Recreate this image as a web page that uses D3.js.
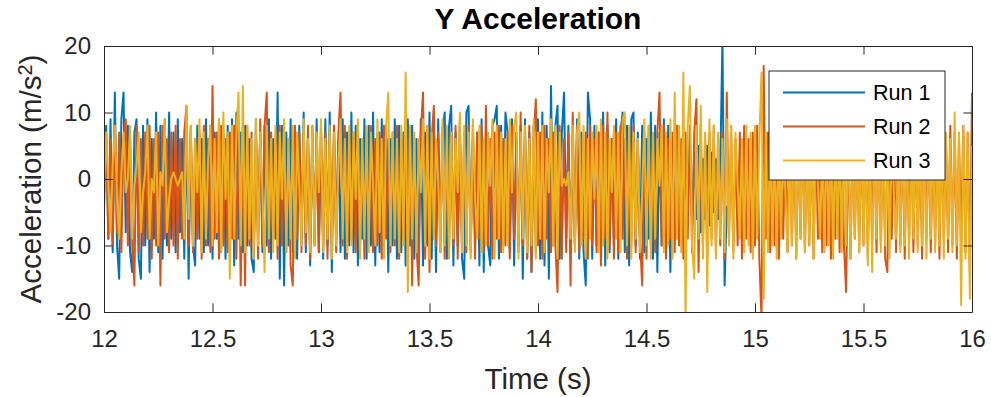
<!DOCTYPE html>
<html>
<head>
<meta charset="utf-8">
<script src="https://cdn.jsdelivr.net/npm/d3@7"></script>
<style>
  html, body { margin: 0; padding: 0; background: #fff; }
  svg { display: block; font-family: "Liberation Sans", Arial, Helvetica, sans-serif; }
</style>
</head>
<body>
<svg id="chart" width="991" height="397"></svg>
<script>
// Y-axis acceleration, three runs sampled every 0.01 s starting at t = 12 s
const startTime = 12;
const sampleStep = 0.01;

const seriesNames = ["Run 1", "Run 2", "Run 3"];
const seriesColors = ["#0072BD", "#D95319", "#EDB120"];

// Run 1 stops shortly before 14.9 s
const run1 = [
  2, 8, -9, 9, -11, 13, -10, -15, 9, 13, -8, 8, -11, -14, 7, 9, -12, -15, 8, -10,
  9, -14, 6, -9, 10, -11, 8, -12, 9, -10, 10, -9, 7, -11, 9, -8, 6, -12, 9, -15,
  7, -10, -13, 8, -9, 6, -11, 9, -10, 8, -12, 7, -9, 9, -11, 6, -12, 8, -10, 9,
  -13, 10, -9, 7, -11, 8, -10, 6, -12, -14, 9, -8, 7, -11, 8, -10, 9, -12, 6, -9,
  13, -15, 8, -16, 7, -10, 9, -11, 6, -12, 8, -9, 10, -11, 7, -13, 8, -10, 9, -11,
  7, -12, 9, -10, 10, -14, 8, -9, 6, -11, 9, -12, 7, -10, 10, -11, 8, -13, 6, -9,
  9, -12, 8, -10, 10, -13, 7, -11, 9, -9, 8, -14, 6, -10, 9, -12, 8, -11, 7, -13,
  9, -10, 8, -12, 6, -11, 9, -13, 7, -10, 10, -12, 8, -14, 9, -11, 7, 10, -12, 8,
  11, -13, 7, -10, 9, -12, -15, 10, 11, -11, 8, -9, 7, -13, 9, -14, 6, -10, -13, 8,
  9, 11, -12, 8, -10, 10, 7, -11, 9, -13, 7, -10, 8, -15, 9, -12, 7, -14, 8, -11,
  9, -12, 10, -13, 8, -15, 14, -10, 8, 11, -12, 7, 13, -9, 8, -11, 6, -10, 9, -12,
  7, -11, -16, 13, 9, -12, 8, -10, 7, -9, 10, -13, 8, -11, 6, -10, 9, -12, 7, 10,
  -11, 8, -13, 9, 10, -10, 7, -12, 8, -11, 6, -9, 10, -12, 8, -14, 7, -10, 9, -11,
  8, -14, 5, -7, 4, -6, 5, -8, 3, -5, 6, -7, 4, -6, 5, -8, 3, -6, 5, -7,
  4, -5, 3, -6, 2, 21, -16, -4
];

const run2 = [
  -5, 7, -9, 6, -10, 8, -8, 7, -11, 6, 9, -10, 7, -9, -16, 8, -11, 6, -10, 7,
  -9, 8, -12, 6, -10, 7, -16, 8, -9, 6, -11, 7, -10, 8, -12, 6, -9, 7, 11, -10,
  8, -11, 6, -9, 7, -12, 8, -10, 6, -11, 14, -9, 7, -12, 8, -10, 6, -11, 7, -9,
  8, -12, 7, -16, 6, -16, 8, -10, 7, -11, 6, -12, 9, -10, 8, 13, -11, 7, -9, 6,
  -12, 8, -10, 7, -11, 6, -13, -16, 8, -9, 7, -11, 6, -10, 8, -12, 7, -9, 6, -11,
  8, -10, 7, -12, 6, -9, 8, -11, 7, 13, -10, 8, -12, 6, -9, 7, -11, 8, -10, 6,
  -12, 7, -9, 8, -11, 6, -10, 7, -12, 8, -9, 6, -11, 7, -10, 8, -12, 6, -9, 7,
  -11, 8, -16, 6, -10, -16, 7, 13, -12, 8, -14, 6, 11, -10, 7, -9, 8, -12, 6, -11,
  7, -10, 8, -12, 6, -9, 7, -11, 8, -10, 6, -12, 7, -9, 8, -11, 11, -10, 6, -12,
  7, -9, 8, -11, 6, -10, 7, -12, 8, -9, 6, -11, 10, -10, 7, -12, 8, -14, 6, 12,
  -10, 7, -12, 8, -9, 6, -11, 7, -10, -17, 8, -12, 6, -11, 7, -16, 10, -10, 8, -11,
  6, -9, 7, -12, 8, -10, 6, -11, 7, -13, 8, -9, 10, -10, 6, -12, 7, -11, 8, -9,
  6, -12, 7, -10, 8, -11, 6, -9, -16, 7, -12, 8, -10, 6, -11, 7, 13, -10, 8, -12,
  6, -9, 7, -11, 8, -10, 6, -12, 7, -9, 8, -11, 7, 12, -14, 8, -10, 6, -12, 7,
  -9, 8, -11, 6, -10, 7, -12, 13, -9, 8, -11, 6, -10, 7, -12, 8, -9, 6, -11, 7,
  -10, 8, -12, -21, 17, -9, 7, -11, 6, -10, 8, -12, 7, -9, 6, -11, 8, -10, 7, -12,
  6, -9, 8, -11, 7, -10, 6, -12, 8, -9, 7, -11, 6, -10, 8, -12, 7, -9, 6, -11,
  8, -10, -17, 7, -12, 6, -9, 8, -11, 7, -10, 6, -12, 8, -9, 7, -11, 6, -10, 8,
  -12, -14, 7, -9, 6, -11, 8, -10, 7, -12, 6, -9, 8, -11, 7, -10, 6, -12, 8, -9,
  7, -11, 6, -10, 8, -12, 7, -9, 6, -11, 8, -10, 7, -12, 6, -9, 8, -11, 7, -14,
  13
];

const run3 = [
  -2, 7, -1, -8, 2, 8, -3, -9, 1, 7, -2, 0, 8, -9, -1, 2, 7, -8, -2, 1,
  8, -9, 0, -2, 7, -10, 1, -1, 9, -8, -3, 0, 1, 0, -1, 0, 1, -9, 11, -6,
  8, -10, 6, -2, 9, -11, 7, -9, 3, 8, -10, 6, -8, 9, -11, 10, -3, 7, -15, 8,
  -9, 7, 13, -10, 14, -11, 8, -9, 6, -12, 9, -10, 7, -2, -14, 8, -9, 6, -11, 8,
  -10, 7, -3, 9, -11, 6, -9, 8, -12, 7, -1, -10, 9, -8, 6, -11, 8, -10, 7, -2,
  9, -11, 6, -9, 8, -12, 7, -10, 2, 9, -9, 6, -11, 8, -10, 7, -3, 9, -12, 6,
  -9, 8, -11, 7, -1, -10, 9, -8, 6, -12, 8, 13, -10, 7, -9, 6, -11, 8, -10, 16,
  -17, 8, -9, 7, -11, 6, -2, 9, -10, 8, -12, 7, -9, 6, 0, -11, 9, -10, 8, -12,
  7, -9, 6, -2, 10, -11, 8, -10, 7, -12, 9, -3, -9, 8, -11, 6, -10, 7, -1, 9,
  -12, 8, -9, 7, -11, 6, -10, 9, -2, 8, 10, -12, 7, -9, 8, -11, 6, -10, 9, -12,
  7, -9, 8, -11, 6, -2, 9, -10, 8, -12, 7, -1, 0, -1, 1, -9, 8, -11, 7, 10,
  -10, 8, -12, 6, -9, 7, -3, 8, -11, 9, -10, 7, -12, 6, -2, 8, -9, 7, -11, 9,
  10, -10, 8, -12, 7, -9, 6, -11, -2, 9, -10, 8, -12, 7, -9, 6, -1, 8, -11, 7,
  -10, 9, -12, 13, -9, 8, -11, 16, -21, 8, 14, -10, -15, 8, -9, 11, -12, 7, -17, 9,
  -10, 8, -12, 7, -9, 6, -11, 9, -10, 8, -12, 7, -1, -9, 6, -11, 8, -10, 7, -12,
  8, -9, 6, 16, -18, 7, -11, 8, -10, 6, -12, 7, -9, 8, -2, -11, 6, -10, 9, -12,
  7, -9, 8, -11, 6, -10, 7, -12, 8, -1, -9, 6, -11, 8, -10, 7, -12, 6, -9, 8,
  -11, 7, -10, 8, -12, 6, -9, 7, -11, 8, -10, 6, -13, 7, -14, 8, -9, 6, -11, 7,
  -10, 8, -12, 7, -2, -9, 6, -11, 8, -10, 7, -12, 6, -9, 8, -11, 7, -10, 6, -12,
  8, -9, 7, -11, 6, -10, 8, -12, 7, -9, 6, -11, 10, -10, 7, -19, 8, -12, 7, -18,
  5
];

const xTickValues = [12, 12.5, 13, 13.5, 14, 14.5, 15, 15.5, 16];
const xTickLabels = ["12", "12.5", "13", "13.5", "14", "14.5", "15", "15.5", "16"];
const yTickValues = [-20, -10, 0, 10, 20];
const yTickLabels = ["-20", "-10", "0", "10", "20"];

const titleText = "Y Acceleration";
const xLabelText = "Time (s)";

// ---- layout ----
const plot = { left: 104, right: 972, top: 46, bottom: 312 };
const axisColor = "#262626";
const tickLen = 8.7;

const svg = d3.select("#chart");

const x = d3.scaleLinear().domain([12, 16]).range([plot.left, plot.right]);
const y = d3.scaleLinear().domain([-20, 20]).range([plot.bottom, plot.top]);

svg.append("defs").append("clipPath").attr("id", "plot-clip")
  .append("rect")
  .attr("x", plot.left).attr("y", plot.top)
  .attr("width", plot.right - plot.left).attr("height", plot.bottom - plot.top);

// ---- traces ----
const runs = [run1, run2, run3];
const line = d3.line()
  .x((d, i) => x(startTime + i * sampleStep))
  .y(d => y(d));

const traces = svg.append("g").attr("clip-path", "url(#plot-clip)");
runs.forEach((vals, k) => {
  traces.append("path")
    .datum(vals)
    .attr("d", line)
    .attr("fill", "none")
    .attr("stroke", seriesColors[k])
    .attr("stroke-width", 2)
    .attr("stroke-linejoin", "round");
});

// ---- axes (box with inward ticks on all sides) ----
function styleAxis(g) {
  g.selectAll("path.domain").attr("stroke", axisColor).attr("stroke-width", 1).attr("fill", "none");
  g.selectAll(".tick line").attr("stroke", axisColor).attr("stroke-width", 1);
  g.selectAll(".tick text")
    .attr("fill", axisColor)
    .style("font-size", "24px")
    .style("font-family", "'Liberation Sans', Arial, Helvetica, sans-serif");
}

const xFmt = d => xTickLabels[xTickValues.indexOf(d)];
const yFmt = d => yTickLabels[yTickValues.indexOf(d)];

svg.append("g")
  .attr("transform", `translate(0,${plot.bottom})`)
  .call(d3.axisBottom(x).tickValues(xTickValues).tickFormat(xFmt)
    .tickSizeInner(-tickLen).tickSizeOuter(0).tickPadding(18))
  .call(styleAxis);

svg.append("g")
  .attr("transform", `translate(0,${plot.top})`)
  .call(d3.axisTop(x).tickValues(xTickValues).tickFormat("")
    .tickSizeInner(-tickLen).tickSizeOuter(0))
  .call(styleAxis);

svg.append("g")
  .attr("transform", `translate(${plot.left},0)`)
  .call(d3.axisLeft(y).tickValues(yTickValues).tickFormat(yFmt)
    .tickSizeInner(-tickLen).tickSizeOuter(0).tickPadding(13))
  .call(styleAxis);

svg.append("g")
  .attr("transform", `translate(${plot.right},0)`)
  .call(d3.axisRight(y).tickValues(yTickValues).tickFormat("")
    .tickSizeInner(-tickLen).tickSizeOuter(0))
  .call(styleAxis);

// ---- title and axis labels ----
svg.append("text")
  .attr("x", (plot.left + plot.right) / 2)
  .attr("y", 29)
  .attr("text-anchor", "middle")
  .attr("fill", "#000")
  .style("font-size", "30px")
  .style("font-weight", "bold")
  .text(titleText);

svg.append("text")
  .attr("x", (plot.left + plot.right) / 2)
  .attr("y", 389)
  .attr("text-anchor", "middle")
  .attr("fill", axisColor)
  .style("font-size", "29.5px")
  .text(xLabelText);

const yLabel = svg.append("text")
  .attr("transform", `translate(41,${(plot.top + plot.bottom) / 2}) rotate(-90)`)
  .attr("text-anchor", "middle")
  .attr("fill", axisColor)
  .style("font-size", "29.5px");
yLabel.append("tspan").text("Acceleration (m/s");
yLabel.append("tspan").attr("dy", "-0.45em").style("font-size", "20px").text("2");
yLabel.append("tspan").attr("dy", "0.3em").text(")");

// ---- legend ----
const legend = svg.append("g").attr("transform", "translate(769,71)");
legend.append("rect")
  .attr("width", 176).attr("height", 109)
  .attr("fill", "#fff")
  .attr("stroke", axisColor).attr("stroke-width", 1);

seriesNames.forEach((name, k) => {
  const cy = 21.5 + k * 34;
  legend.append("line")
    .attr("x1", 14).attr("x2", 96)
    .attr("y1", cy).attr("y2", cy)
    .attr("stroke", seriesColors[k]).attr("stroke-width", 2);
  legend.append("text")
    .attr("x", 104).attr("y", cy)
    .attr("dy", "0.35em")
    .attr("fill", "#000")
    .style("font-size", "21.6px")
    .text(name);
});
</script>
</body>
</html>
